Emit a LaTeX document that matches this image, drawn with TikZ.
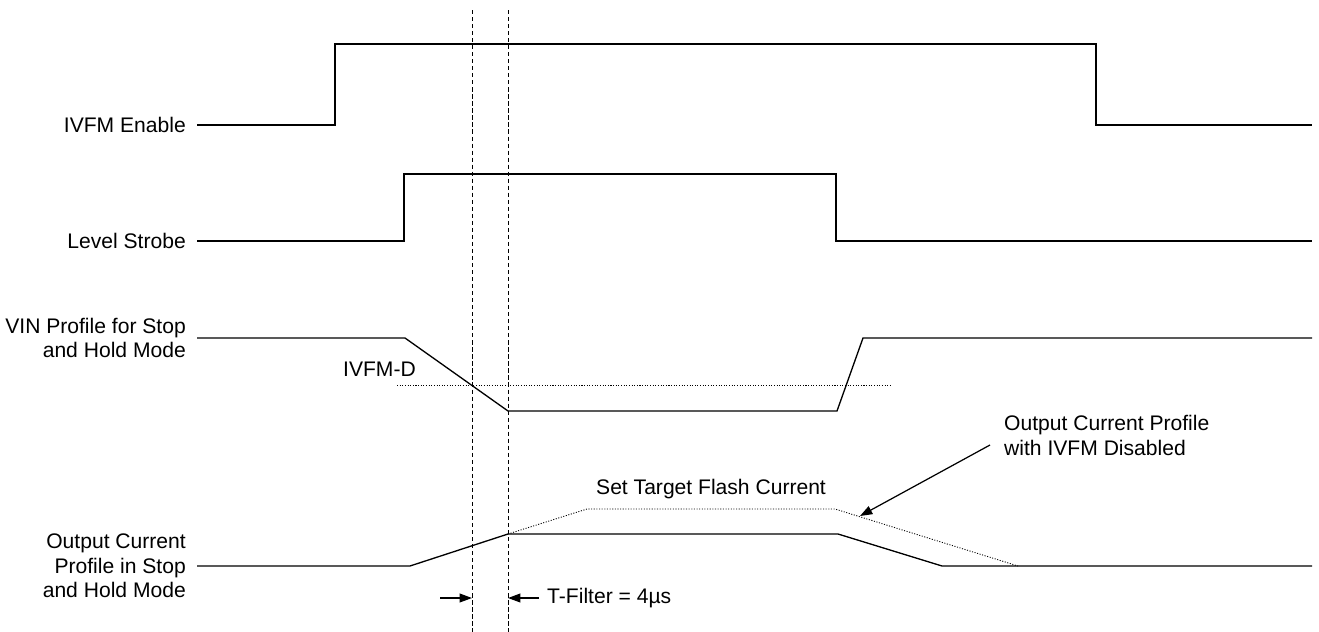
\documentclass[tikz,border=0pt]{standalone}
\usepackage{fontspec}
\setmainfont{Liberation Sans}
\usetikzlibrary{arrows.meta}

\tikzset{
  trace/.style={line width=0.75pt,line join=miter},
  limit/.style={line width=0.5pt,dash pattern=on 0.6pt off 0.9pt},
  marker/.style={line width=0.55pt,dash pattern=on 2.4pt off 1.6pt},
  sig/.style={anchor=east,align=right,font=\fontsize{12}{14}\selectfont},
  note/.style={font=\fontsize{12}{14}\selectfont},
  tip/.style={line width=0.7pt,-{Triangle[length=7pt,width=5pt]}}
}

\begin{document}
\begin{tikzpicture}[x=0.02cm,y=-0.02cm]
\useasboundingbox (0,0) rectangle (1319,632);

% signal names
\node[sig] (en) at (192,125) {IVFM Enable};
\node[sig] (ls) at (192,241) {Level Strobe};
\node[sig] (vin) at (192,338) {VIN Profile for Stop\\and Hold Mode};
\node[sig] (iout) at (192,566) {Output Current\\Profile in Stop\\and Hold Mode};

% IVFM Enable
\draw[trace] (197,125) -- (335,125) -- (335,44) -- (1096,44) -- (1096,125) -- (1312,125);
% Level Strobe
\draw[trace] (197,241) -- (404,241) -- (404,174) -- (836,174) -- (836,241) -- (1312,241);
% VIN
\draw[trace] (197,338) -- (405,338) -- (508,411) -- (837,411) -- (863,338) -- (1312,338);
\draw[limit] (397,385) -- (891,385);
\node[note,anchor=base east] (ivfmd) at (422,376) {IVFM-D};

% output current
\coordinate (knee) at (508,534);
\draw[trace] (197,566) -- (410,566) -- (knee) -- (838,534) -- (942,566) -- (1312,566);
\draw[limit] (knee) -- (587,509) -- (835,509) -- (1018,566);
\node[note,anchor=base west] (target) at (590,494) {Set Target Flash Current};
\node[note,anchor=base west,align=left] (dis) at (998,455) {Output Current Profile\\with IVFM Disabled};
\coordinate (hit) at (860,516);
\draw[tip] (990,445) -- (hit);

% filter window
\draw[marker] (472,10) -- (472,632);
\draw[marker] (508,10) -- (508,632);
\coordinate (wl) at (472,598);
\coordinate (wr) at (508,598);
\draw[tip] (440,598) -- (wl);
\draw[tip] (539,598) -- (wr);
\node[note,anchor=west] (tf) at (541,598) {T-Filter = 4µs};
\end{tikzpicture}
\end{document}
